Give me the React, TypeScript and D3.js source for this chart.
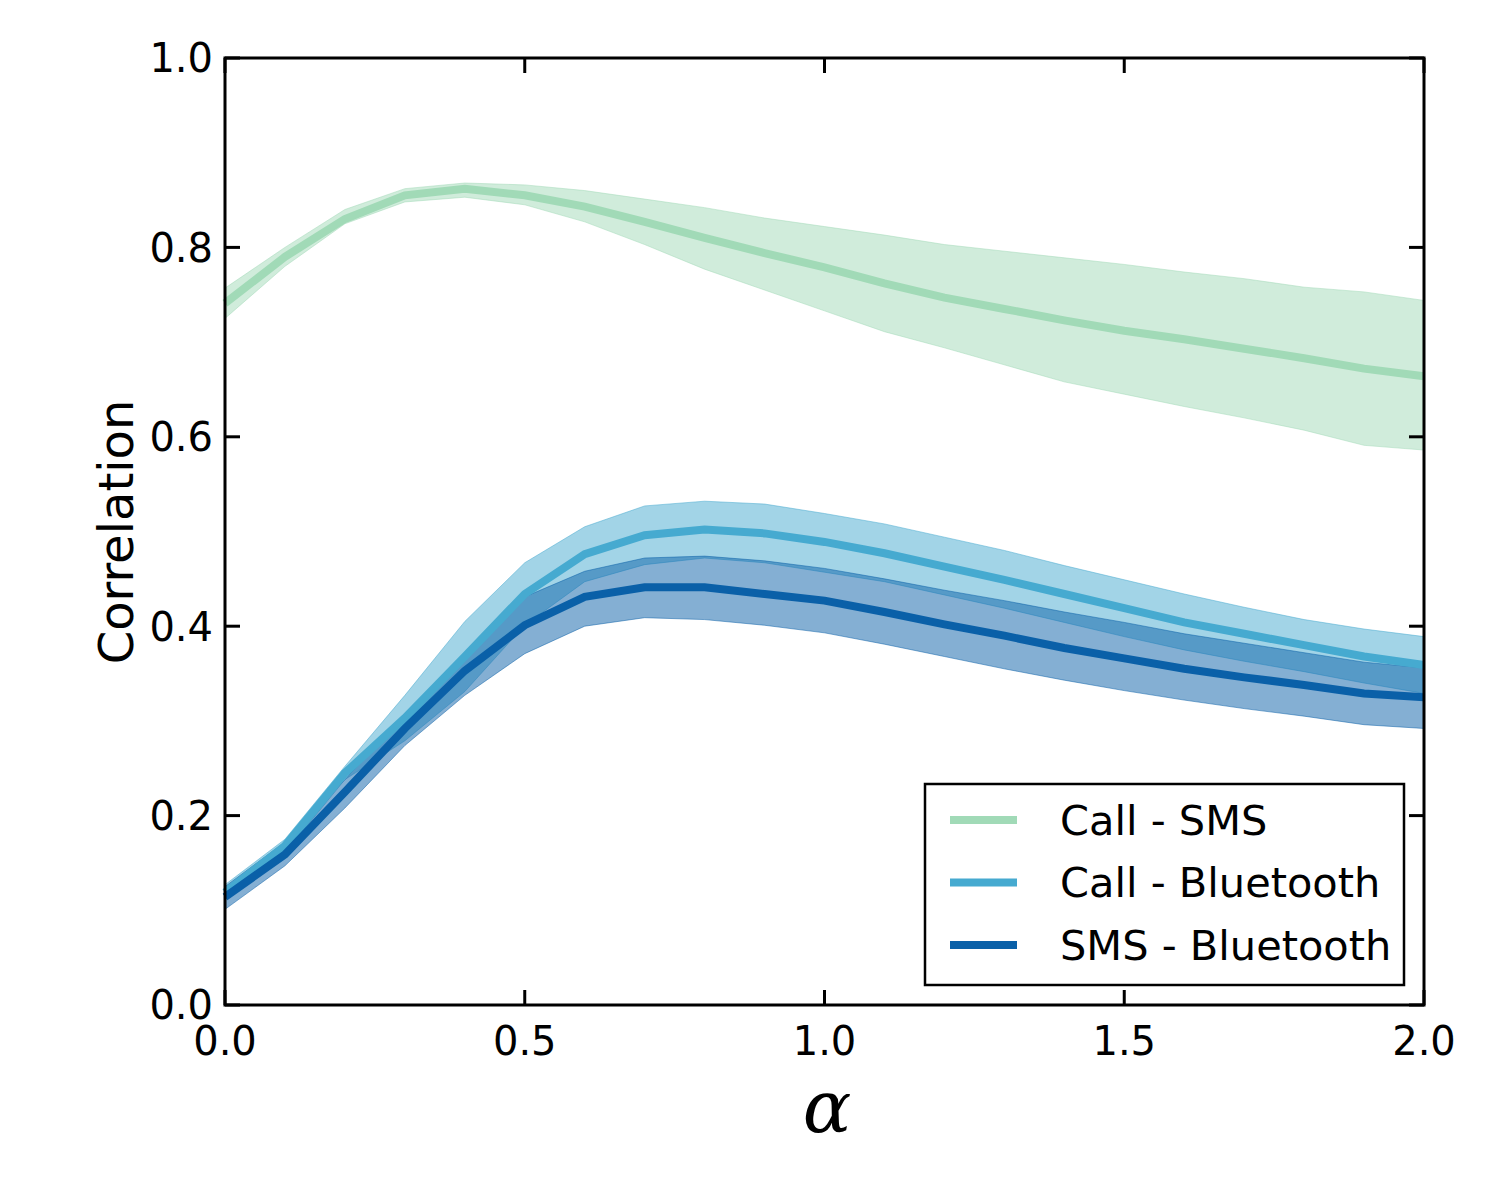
import React, { useEffect, useRef } from "react";
import * as d3 from "d3";

// alpha values on the x axis
const alphas = [0, 0.1, 0.2, 0.3, 0.4, 0.5, 0.6, 0.7, 0.8, 0.9, 1.0, 1.1, 1.2, 1.3, 1.4, 1.5, 1.6, 1.7, 1.8, 1.9, 2.0];

const callSmsMean = [0.741, 0.79, 0.83, 0.855, 0.862, 0.855, 0.843, 0.827, 0.81, 0.794, 0.779, 0.762, 0.747, 0.735, 0.723, 0.712, 0.703, 0.693, 0.683, 0.672, 0.664];
const callSmsUpper = [0.757, 0.8, 0.84, 0.862, 0.868, 0.866, 0.86, 0.851, 0.842, 0.831, 0.822, 0.813, 0.803, 0.796, 0.789, 0.782, 0.774, 0.767, 0.758, 0.753, 0.744];
const callSmsLower = [0.725, 0.78, 0.825, 0.848, 0.853, 0.845, 0.827, 0.803, 0.777, 0.755, 0.733, 0.711, 0.694, 0.676, 0.658, 0.645, 0.632, 0.62, 0.607, 0.591, 0.586];

const callBtMean = [0.119, 0.168, 0.245, 0.303, 0.368, 0.434, 0.476, 0.496, 0.502, 0.498, 0.489, 0.477, 0.463, 0.449, 0.434, 0.419, 0.404, 0.392, 0.38, 0.368, 0.359];
const callBtUpper = [0.127, 0.175, 0.252, 0.327, 0.405, 0.467, 0.505, 0.527, 0.532, 0.529, 0.519, 0.508, 0.494, 0.48, 0.464, 0.449, 0.434, 0.42, 0.407, 0.397, 0.389];
const callBtLower = [0.111, 0.161, 0.238, 0.279, 0.331, 0.401, 0.447, 0.465, 0.472, 0.467, 0.457, 0.447, 0.433, 0.419, 0.404, 0.389, 0.375, 0.363, 0.352, 0.34, 0.329];

const smsBtMean = [0.114, 0.159, 0.225, 0.292, 0.353, 0.401, 0.431, 0.441, 0.441, 0.434, 0.427, 0.415, 0.402, 0.39, 0.377, 0.366, 0.355, 0.346, 0.338, 0.329, 0.325];
const smsBtUpper = [0.125, 0.172, 0.238, 0.307, 0.368, 0.431, 0.458, 0.472, 0.474, 0.469, 0.461, 0.45, 0.438, 0.427, 0.415, 0.404, 0.392, 0.382, 0.372, 0.362, 0.356];
const smsBtLower = [0.101, 0.147, 0.208, 0.274, 0.327, 0.371, 0.4, 0.409, 0.407, 0.401, 0.393, 0.381, 0.368, 0.355, 0.343, 0.332, 0.322, 0.313, 0.305, 0.296, 0.292];

const seriesNames = ["Call - SMS", "Call - Bluetooth", "SMS - Bluetooth"];
const seriesColors = ["#a1dab7", "#46aad0", "#0a60a8"];

const xTicks = [0, 0.5, 1.0, 1.5, 2.0];
const yTicks = [0, 0.2, 0.4, 0.6, 0.8, 1.0];

export default function App() {
	const ref = useRef<SVGSVGElement>(null);

	useEffect(() => {
		const svg = d3.select(ref.current);
		svg.selectAll("*").remove();

		const margin = { left: 225, top: 58, right: 76, bottom: 178 };
		const width = 1500 - margin.left - margin.right;
		const height = 1183 - margin.top - margin.bottom;
		const font = "DejaVu Sans, sans-serif";

		const x = d3.scaleLinear().domain([0, 2]).range([0, width]);
		const y = d3.scaleLinear().domain([0, 1]).range([height, 0]);

		const g = svg.append("g").attr("transform", `translate(${margin.left},${margin.top})`);

		const series = [
			{ mean: callSmsMean, upper: callSmsUpper, lower: callSmsLower },
			{ mean: callBtMean, upper: callBtUpper, lower: callBtLower },
			{ mean: smsBtMean, upper: smsBtUpper, lower: smsBtLower },
		];

		const area = d3
			.area<number>()
			.x((d, i) => x(alphas[i]))
			.y0((d) => y(d));
		const line = d3
			.line<number>()
			.x((d, i) => x(alphas[i]))
			.y((d) => y(d));

		series.forEach((s, k) => {
			g.append("path")
				.datum(s.upper)
				.attr("d", area.y0((d, i) => y(s.lower[i])).y1((d) => y(d)))
				.attr("fill", seriesColors[k])
				.attr("fill-opacity", 0.5)
				.attr("stroke", seriesColors[k])
				.attr("stroke-opacity", 0.5)
				.attr("stroke-width", 1);
		});
		series.forEach((s, k) => {
			g.append("path")
				.datum(s.mean)
				.attr("d", line)
				.attr("fill", "none")
				.attr("stroke", seriesColors[k])
				.attr("stroke-width", 8);
		});

		// frame
		g.append("rect")
			.attr("width", width)
			.attr("height", height)
			.attr("fill", "none")
			.attr("stroke", "black")
			.attr("stroke-width", 3);

		const tickLen = 15;
		xTicks.forEach((t) => {
			g.append("line").attr("x1", x(t)).attr("x2", x(t)).attr("y1", height).attr("y2", height - tickLen).attr("stroke", "black").attr("stroke-width", 3);
			g.append("line").attr("x1", x(t)).attr("x2", x(t)).attr("y1", 0).attr("y2", tickLen).attr("stroke", "black").attr("stroke-width", 3);
			g.append("text")
				.attr("x", x(t))
				.attr("y", height + 50)
				.attr("text-anchor", "middle")
				.attr("font-family", font)
				.attr("font-size", 40)
				.text(t.toFixed(1));
		});
		yTicks.forEach((t) => {
			g.append("line").attr("x1", 0).attr("x2", tickLen).attr("y1", y(t)).attr("y2", y(t)).attr("stroke", "black").attr("stroke-width", 3);
			g.append("line").attr("x1", width).attr("x2", width - tickLen).attr("y1", y(t)).attr("y2", y(t)).attr("stroke", "black").attr("stroke-width", 3);
			g.append("text")
				.attr("x", -12)
				.attr("y", y(t))
				.attr("dy", "0.36em")
				.attr("text-anchor", "end")
				.attr("font-family", font)
				.attr("font-size", 40)
				.text(t.toFixed(1));
		});

		// axis labels
		svg.append("text")
			.attr("transform", `translate(133,532) rotate(-90)`)
			.attr("text-anchor", "middle")
			.attr("font-family", font)
			.attr("font-size", 48)
			.text("Correlation");
		svg.append("text")
			.attr("x", 827)
			.attr("y", 1132)
			.attr("text-anchor", "middle")
			.attr("font-family", "DejaVu Serif, serif")
			.attr("font-style", "italic")
			.attr("font-size", 72)
			.text("α");

		// legend
		const lg = svg.append("g").attr("transform", "translate(925,784)");
		lg.append("rect").attr("width", 479).attr("height", 201).attr("fill", "white").attr("stroke", "black").attr("stroke-width", 2.5);
		seriesNames.forEach((name, i) => {
			const cy = 36 + i * 62.5;
			lg.append("line").attr("x1", 25).attr("x2", 92).attr("y1", cy).attr("y2", cy).attr("stroke", seriesColors[i]).attr("stroke-width", 8);
			lg.append("text")
				.attr("x", 135)
				.attr("y", cy)
				.attr("dy", "0.36em")
				.attr("font-family", font)
				.attr("font-size", 41.5)
				.text(name);
		});
	}, []);

	return (
		<svg
			ref={ref}
			width={1500}
			height={1183}
			style={{ position: "absolute", left: 0, top: 0, background: "white" }}
		/>
	);
}
